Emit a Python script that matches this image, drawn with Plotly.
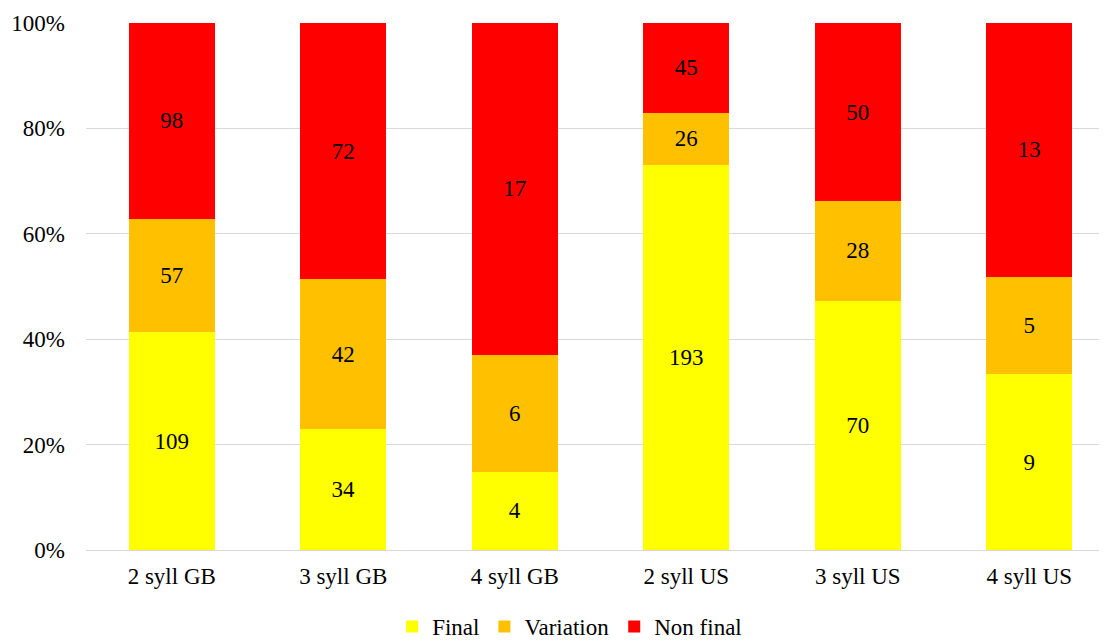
import plotly.graph_objects as go

categories = ["2 syll GB", "3 syll GB", "4 syll GB", "2 syll US", "3 syll US", "4 syll US"]
final = [109, 34, 4, 193, 70, 9]
variation = [57, 42, 6, 26, 28, 5]
non_final = [98, 72, 17, 45, 50, 13]
y_ticks = [0, 20, 40, 60, 80, 100]
y_tick_labels = ["0%", "20%", "40%", "60%", "80%", "100%"]

series = [
    ("Final", final, "#FFFF00"),
    ("Variation", variation, "#FFC000"),
    ("Non final", non_final, "#FF0000"),
]

serif = "'Liberation Serif', 'Times New Roman', Times, serif"
fsize = 23

fig = go.Figure()
for name, vals, col in series:
    fig.add_trace(go.Bar(
        x=categories, y=vals, name=name,
        marker=dict(color=col, line=dict(width=0)),
        text=[str(v) for v in vals],
        textposition="inside", insidetextanchor="middle",
        textfont=dict(family=serif, size=fsize, color="black"),
    ))

# page body has an 8px margin, so offsets are reduced by 8
fig.update_layout(
    barmode="stack", barnorm="percent", bargap=0.5,
    width=1107, height=640,
    margin=dict(l=78, r=0, t=15, b=98),
    paper_bgcolor="white", plot_bgcolor="white",
    font=dict(family=serif, size=fsize, color="black"),
    legend=dict(orientation="h", xanchor="center", x=0.47, yanchor="top", y=-0.105,
                font=dict(family=serif, size=fsize), traceorder="normal"),
    uniformtext=dict(minsize=fsize, mode="show"),
)
fig.update_yaxes(range=[0, 100], tickvals=y_ticks, ticktext=y_tick_labels,
                 showgrid=True, gridcolor="#D9D9D9", gridwidth=1,
                 zeroline=True, zerolinecolor="#D9D9D9", zerolinewidth=1,
                 ticks="", showline=False, ticklabelstandoff=20,
                 tickfont=dict(family=serif, size=fsize))
fig.update_xaxes(range=[-0.5, 5.5], showgrid=False, ticks="", showline=False,
                 ticklabelstandoff=10, tickfont=dict(family=serif, size=fsize))

fig.write_html("out.html")
